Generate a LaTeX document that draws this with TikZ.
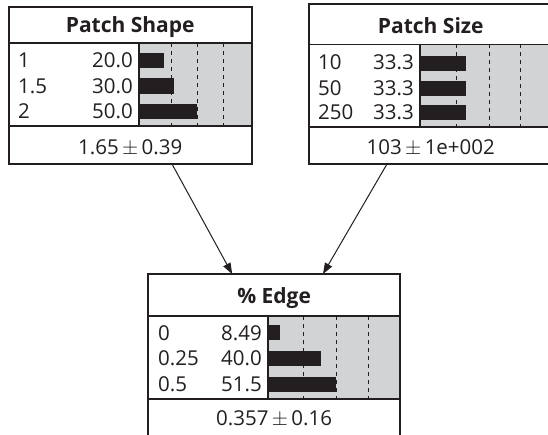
\documentclass[tikz,border=0pt]{standalone}
\usepackage{fontspec}
\setmainfont{Open Sans}
\usetikzlibrary{arrows.meta}
\definecolor{ink}{HTML}{231F20}
\definecolor{barbg}{HTML}{D1D3D4}
\tikzset{
  frame/.style={draw=ink, line width=2pt, inner sep=0pt, outer sep=0pt, anchor=north west},
  sepline/.style={draw=ink, line width=1.6pt},
  gridline/.style={draw=ink, line width=0.9pt, dash pattern=on 4pt off 4pt},
  barbox/.style={fill=ink},
  bararea/.style={fill=barbg},
  lab/.style={anchor=base west, inner sep=0pt, text=ink, font=\fontsize{20.5}{20.5}\selectfont},
  val/.style={anchor=base east, inner sep=0pt, text=ink, font=\fontsize{20.5}{20.5}\selectfont},
  ttl/.style={anchor=base, inner sep=0pt, text=ink, font=\fontsize{21}{21}\selectfont\bfseries},
  stat/.style={anchor=base, inner sep=0pt, text=ink, font=\fontsize{20.5}{20.5}\selectfont},
  link/.style={draw=ink, line width=1pt, -{Triangle[length=11pt,width=8pt]}},
}
\begin{document}
\begin{tikzpicture}[x=1pt, y=-1pt]
\useasboundingbox (0,0) rectangle (548,435);
\fill[white] (0,0) rectangle (548,435);
\clip (0,0) rectangle (548,435);

% ---- Patch Shape ----
\fill[bararea] (139,43) rectangle (252,126);
\foreach \x in {171,197,223} \draw[gridline] (\x,43) -- (\x,126);
\fill[barbox] (139,53) rectangle (163.7,68);
\fill[barbox] (139,78.5) rectangle (173.7,94);
\fill[barbox] (139,104) rectangle (197,119);
\draw[sepline] (8.5,43) -- (252,43);
\draw[sepline] (8.5,126) -- (252,126);
\draw[sepline] (139,43) -- (139,126);
\node[ttl] (t1) at (130.25,33) {Patch Shape};
\node[lab] (l11) at (18,68) {1};
\node[lab] (l12) at (18,94) {1.5};
\node[lab] (l13) at (18,119) {2};
\node[val] (v11) at (133,68) {20.0};
\node[val] (v12) at (133,94) {30.0};
\node[val] (v13) at (133,119) {50.0};
\node[stat] (s1) at (130.25,155) {1.65\,$\pm$\,0.39};
\node[frame, minimum width=243.5pt, minimum height=156.5pt] (shape) at (8.5,7.5) {};

% ---- Patch Size ----
\fill[bararea] (420,44.5) rectangle (552.5,127);
\foreach \x in {456,489,520} \draw[gridline] (\x,44.5) -- (\x,127);
\fill[barbox] (420,56) rectangle (466,71);
\fill[barbox] (420,81) rectangle (466,96.5);
\fill[barbox] (420,105) rectangle (466,120);
\draw[sepline] (309,44.5) -- (552.5,44.5);
\draw[sepline] (309,127) -- (552.5,127);
\draw[sepline] (420,44.5) -- (420,127);
\node[ttl] (t2) at (430.75,34) {Patch Size};
\node[lab] (l21) at (318,70) {10};
\node[lab] (l22) at (318,96) {50};
\node[lab] (l23) at (318,120) {250};
\node[val] (v21) at (414,70) {33.3};
\node[val] (v22) at (414,96) {33.3};
\node[val] (v23) at (414,120) {33.3};
\node[stat] (s2) at (430.75,155) {103\,$\pm$\,1e+002};
\node[frame, minimum width=243.5pt, minimum height=160pt] (size) at (309,4) {};

% ---- % Edge ----
\fill[bararea] (268,316) rectangle (400,399);
\foreach \x in {303,336,368} \draw[gridline] (\x,316) -- (\x,399);
\fill[barbox] (268,325) rectangle (279.7,340);
\fill[barbox] (268,350.7) rectangle (321.3,366);
\fill[barbox] (268,376.7) rectangle (336.3,391.7);
\draw[sepline] (148.3,316) -- (400,316);
\draw[sepline] (148.3,399) -- (400,399);
\draw[sepline] (268,316) -- (268,399);
\node[ttl] (t3) at (274.15,303.3) {\% Edge};
\node[lab] (l31) at (158,340) {0};
\node[lab] (l32) at (158,365.7) {0.25};
\node[lab] (l33) at (158,391) {0.5};
\node[val] (v31) at (262,340) {8.49};
\node[val] (v32) at (262,365.7) {40.0};
\node[val] (v33) at (262,391) {51.5};
\node[stat] (s3) at (274.15,425) {0.357\,$\pm$\,0.16};
\node[frame, minimum width=251.7pt, minimum height=163pt] (edge) at (148.3,274) {};

% ---- links ----
\draw[link] ([xshift=41.75pt]shape.south) -- ([xshift=-42pt]edge.north);
\draw[link] ([xshift=-43.75pt]size.south) -- ([xshift=48.85pt]edge.north);
\end{tikzpicture}
\end{document}
